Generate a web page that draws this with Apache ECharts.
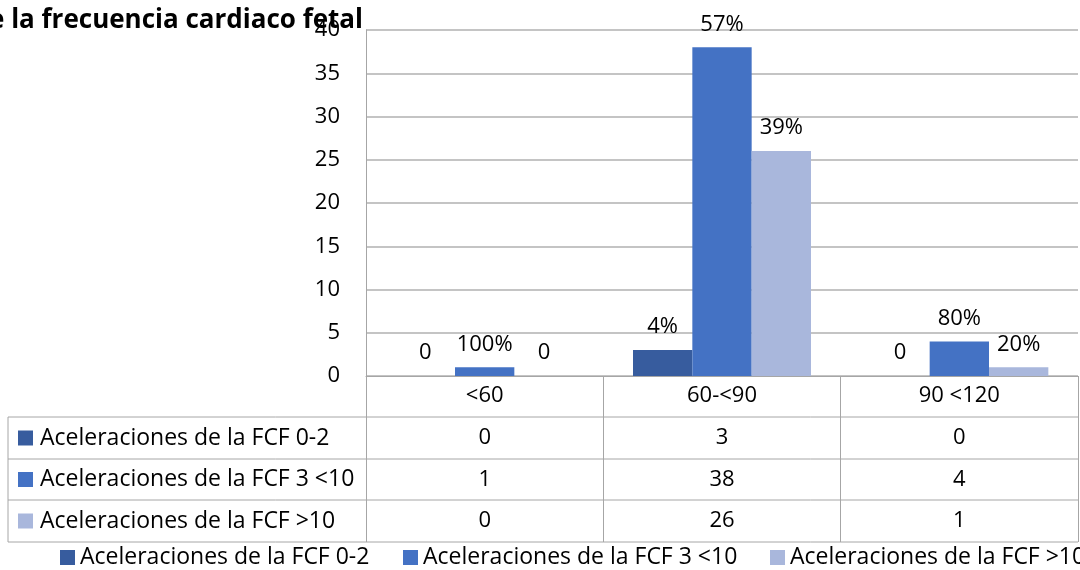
<!DOCTYPE html>
<html>
<head>
<meta charset="utf-8">
<script src="https://cdn.jsdelivr.net/npm/echarts@6/dist/echarts.min.js"></script>
<style>
  html, body { margin: 0; padding: 0; background: #fff; }
  #chart { width: 1080px; height: 570px; }
</style>
</head>
<body>
<div id="chart"></div>
<script>
    var categories = ['<60', '60-<90', '90 <120'];
    var seriesNames = ['Aceleraciones de la FCF 0-2', 'Aceleraciones de la FCF 3 <10', 'Aceleraciones de la FCF >10'];
    var acel02 = [0, 3, 0];
    var acel310 = [1, 38, 4];
    var acel10 = [0, 26, 1];
    var yTicks = [0, 5, 10, 15, 20, 25, 30, 35, 40];
    var colors = ['#375C9E', '#4472C4', '#A9B7DC'];

    var values = [acel02, acel310, acel10];
    var font = 'Open Sans';
    var fs = 23;
    var lineColor = '#A6A6A6';

    // percentage of the category total, zero shown as plain 0
    function pctLabel(p) {
        var v = p.value;
        if (v === 0) return '0';
        var total = 0;
        values.forEach(function (arr) { total += arr[p.dataIndex]; });
        return Math.round(v / total * 100) + '%';
    }

    var gridLeft = 366, gridRight = 1078, axisY = 376;
    var rowTops = [417, 459, 500];
    var tableBottom = 542;
    var legendLefts = [55, 398, 765];

    var chart = echarts.init(document.getElementById('chart'));

    var xAxes = [{
        type: 'category',
        data: categories,
        position: 'bottom',
        axisLine: { show: true, lineStyle: { color: lineColor, width: 1 } },
        axisTick: { show: true, length: tableBottom - axisY, lineStyle: { color: lineColor } },
        axisLabel: { fontFamily: font, fontSize: 22, color: '#000', margin: 9 }
    }];
    values.forEach(function (arr, k) {
        xAxes.push({
            type: 'category',
            data: categories,
            position: 'bottom',
            offset: rowTops[k] - axisY,
            axisLine: { show: false },
            axisTick: { show: false },
            axisLabel: {
                fontFamily: font, fontSize: 22, color: '#000', margin: 10,
                formatter: function (val, idx) { return String(arr[idx]); }
            }
        });
    });

    var graphics = [{
        type: 'text',
        right: 1080 - 363,
        top: 8,
        style: { text: 'de la frecuencia cardiaco fetal', font: 'bold 26px "Open Sans"', fill: '#000' }
    }];
    // table lines
    rowTops.concat([tableBottom]).forEach(function (y) {
        graphics.push({ type: 'line', shape: { x1: 8, y1: y, x2: gridRight, y2: y }, style: { stroke: lineColor, lineWidth: 1 } });
    });
    graphics.push({ type: 'line', shape: { x1: 8, y1: rowTops[0], x2: 8, y2: tableBottom }, style: { stroke: lineColor, lineWidth: 1 } });
    // row headers
    seriesNames.forEach(function (name, k) {
        var cy = (rowTops[k] + (k < 2 ? rowTops[k + 1] : tableBottom)) / 2;
        graphics.push({ type: 'rect', shape: { x: 18, y: cy - 7.5, width: 15, height: 15 }, style: { fill: colors[k] } });
        graphics.push({ type: 'text', x: 40, y: cy, style: { text: name, font: fs + 'px "Open Sans"', fill: '#000', verticalAlign: 'middle' } });
    });

    // one legend per item so the last one runs off the edge instead of wrapping
    var legends = seriesNames.map(function (name, k) {
        return {
            data: [name],
            left: legendLefts[k],
            top: 541,
            width: 1000,
            itemWidth: 15,
            itemHeight: 15,
            icon: 'rect',
            selectedMode: false,
            textStyle: { fontFamily: font, fontSize: fs, color: '#000' }
        };
    });

    chart.setOption({
        animation: false,
        color: colors,
        grid: { left: gridLeft, right: 1080 - gridRight, top: 30, bottom: 570 - axisY },
        legend: legends,
        xAxis: xAxes,
        yAxis: {
            type: 'value',
            min: 0,
            max: 40,
            interval: 5,
            axisLine: { show: true, lineStyle: { color: lineColor } },
            axisTick: { show: false },
            axisLabel: {
                fontFamily: font, fontSize: 22, color: '#000', margin: 26,
                formatter: function (v) { return yTicks.indexOf(v) >= 0 ? String(v) : ''; }
            },
            splitLine: { show: true, lineStyle: { color: '#B0B0B0', width: 1.5 } }
        },
        graphic: graphics,
        series: seriesNames.map(function (name, k) {
            return {
                name: name,
                type: 'bar',
                data: values[k],
                barGap: 0,
                barCategoryGap: '25%',
                label: {
                    show: true,
                    position: 'top',
                    distance: 12,
                    fontFamily: font,
                    fontSize: 22,
                    color: '#000',
                    formatter: pctLabel
                }
            };
        })
    });
</script>
</body>
</html>
